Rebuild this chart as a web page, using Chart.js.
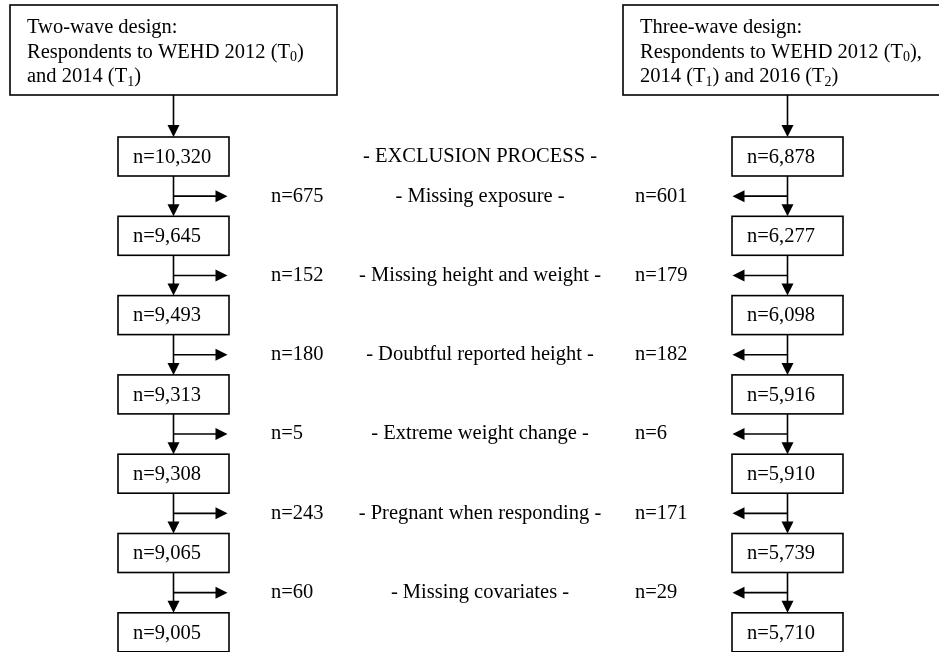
<!DOCTYPE html>
<html>
<head>
<meta charset="utf-8">
<script src="https://cdn.jsdelivr.net/npm/chart.js@4.4.1/dist/chart.umd.min.js"></script>
<style>
    html, body { margin: 0; padding: 0; background: #fff; }
    canvas { display: block; }
</style>
</head>
<body>
<canvas id="flowChart" width="939" height="652"></canvas>
<script>
// Sample sizes at each step of the exclusion process
const twoWaveCounts = [10320, 9645, 9493, 9313, 9308, 9065, 9005];
const threeWaveCounts = [6878, 6277, 6098, 5916, 5910, 5739, 5710];
const twoWaveExcluded = [675, 152, 180, 5, 243, 60];
const threeWaveExcluded = [601, 179, 182, 6, 171, 29];
const exclusionReasons = [
    'Missing exposure',
    'Missing height and weight',
    'Doubtful reported height',
    'Extreme weight change',
    'Pregnant when responding',
    'Missing covariates'
];
const processTitle = '- EXCLUSION PROCESS -';
// "_d" marks a subscript digit
const twoWaveHeader = ['Two-wave design:', 'Respondents to WEHD 2012 (T_0)', 'and 2014 (T_1)'];
const threeWaveHeader = ['Three-wave design:', 'Respondents to WEHD 2012 (T_0),', '2014 (T_1) and 2016 (T_2)'];

// Layout (chart units = pixels)
const LEFT_COL = 173.5;
const RIGHT_COL = 788;
const FIRST_ROW = 156.5;
const ROW_STEP = 79.3;
const BOX_W = 111;
const BOX_H = 39;
const FONT = '20.5px "Liberation Serif", "Times New Roman", serif';
const SUB_FONT = '14px "Liberation Serif", "Times New Roman", serif';

const rowY = i => FIRST_ROW + i * ROW_STEP;
const fmt = n => 'n=' + n.toLocaleString('en-US');

function drawRich(ctx, text, x, y) {
    const parts = text.split(/_(\d)/);
    let cx = x;
    parts.forEach((p, i) => {
        if (i % 2 === 1) {
            ctx.font = SUB_FONT;
            ctx.fillText(p, cx, y + 5);
        } else {
            ctx.font = FONT;
            ctx.fillText(p, cx, y);
        }
        cx += ctx.measureText(p).width;
    });
    ctx.font = FONT;
}

function arrowHead(ctx, x, y, dir) {
    // dir: 'down', 'left', 'right'
    const L = 12, W = 6;
    ctx.beginPath();
    ctx.moveTo(x, y);
    if (dir === 'down') { ctx.lineTo(x - W, y - L); ctx.lineTo(x + W, y - L); }
    if (dir === 'right') { ctx.lineTo(x - L, y - W); ctx.lineTo(x - L, y + W); }
    if (dir === 'left') { ctx.lineTo(x + L, y - W); ctx.lineTo(x + L, y + W); }
    ctx.closePath();
    ctx.fill();
}

function line(ctx, x1, y1, x2, y2) {
    ctx.beginPath();
    ctx.moveTo(x1, y1);
    ctx.lineTo(x2, y2);
    ctx.stroke();
}

const flowPlugin = {
    id: 'flow',
    afterDatasetsDraw(chart) {
        const { ctx, scales: { x, y } } = chart;
        ctx.save();
        ctx.strokeStyle = '#000';
        ctx.fillStyle = '#000';
        ctx.lineWidth = 1.6;
        ctx.font = FONT;
        ctx.textBaseline = 'middle';

        // Header boxes
        const headers = [
            { x0: 10, x1: 337, lines: twoWaveHeader },
            { x0: 623, x1: 952, lines: threeWaveHeader }
        ];
        const hTop = y.getPixelForValue(5), hBot = y.getPixelForValue(95);
        headers.forEach(h => {
            const left = x.getPixelForValue(h.x0), right = x.getPixelForValue(h.x1);
            ctx.strokeRect(left, hTop, right - left, hBot - hTop);
            h.lines.forEach((t, i) => drawRich(ctx, t, left + 17, hTop + 23 + i * 24.5));
        });

        // Box columns
        [[0, 2, 1], [1, 3, -1]].forEach(([boxSet, exclSet, side]) => {
            const boxes = chart.getDatasetMeta(boxSet).data;
            const excl = chart.getDatasetMeta(exclSet).data;
            const counts = chart.data.datasets[boxSet].counts;
            boxes.forEach((el, i) => {
                const left = el.x - BOX_W / 2, top = el.y - BOX_H / 2;
                ctx.strokeRect(left, top, BOX_W, BOX_H);
                ctx.textAlign = 'left';
                ctx.fillText(fmt(counts[i]), left + 15, el.y + 1);
                const from = i === 0 ? hBot : boxes[i - 1].y + BOX_H / 2;
                line(ctx, el.x, from, el.x, top - 6);
                arrowHead(ctx, el.x, top, 'down');
            });
            excl.forEach(el => {
                const tip = el.x + side * (BOX_W / 2 - 1);
                line(ctx, el.x, el.y, tip - side * 6, el.y);
                arrowHead(ctx, tip, el.y, side > 0 ? 'right' : 'left');
            });
        });

        // Excluded counts and reasons
        const center = x.getPixelForValue(480);
        ctx.textAlign = 'center';
        ctx.fillText(processTitle, center, chart.getDatasetMeta(0).data[0].y);
        chart.getDatasetMeta(2).data.forEach((el, i) => {
            ctx.textAlign = 'center';
            ctx.fillText('- ' + exclusionReasons[i] + ' -', center, el.y);
            ctx.textAlign = 'left';
            ctx.fillText(fmt(twoWaveExcluded[i]), x.getPixelForValue(271), el.y);
            ctx.fillText(fmt(threeWaveExcluded[i]), x.getPixelForValue(635), el.y);
        });
        ctx.restore();
    }
};

new Chart(document.getElementById('flowChart'), {
    type: 'scatter',
    data: {
        datasets: [
            { label: 'Two-wave', counts: twoWaveCounts, data: twoWaveCounts.map((n, i) => ({ x: LEFT_COL, y: rowY(i) })) },
            { label: 'Three-wave', counts: threeWaveCounts, data: threeWaveCounts.map((n, i) => ({ x: RIGHT_COL - 0.5, y: rowY(i) })) },
            { label: 'Two-wave excluded', data: twoWaveExcluded.map((n, i) => ({ x: LEFT_COL - 0.5, y: rowY(i) + ROW_STEP / 2 })) },
            { label: 'Three-wave excluded', data: threeWaveExcluded.map((n, i) => ({ x: RIGHT_COL - 1, y: rowY(i) + ROW_STEP / 2 })) }
        ].map(d => Object.assign(d, { pointRadius: 0, pointHoverRadius: 0, showLine: false, clip: false }))
    },
    options: {
        responsive: false,
        animation: false,
        events: [],
        layout: { padding: 0 },
        plugins: { legend: { display: false }, tooltip: { enabled: false } },
        scales: {
            x: { type: 'linear', min: 0, max: 939, display: false },
            y: { type: 'linear', min: 0, max: 652, reverse: true, display: false }
        }
    },
    plugins: [flowPlugin]
});
</script>
</body>
</html>
